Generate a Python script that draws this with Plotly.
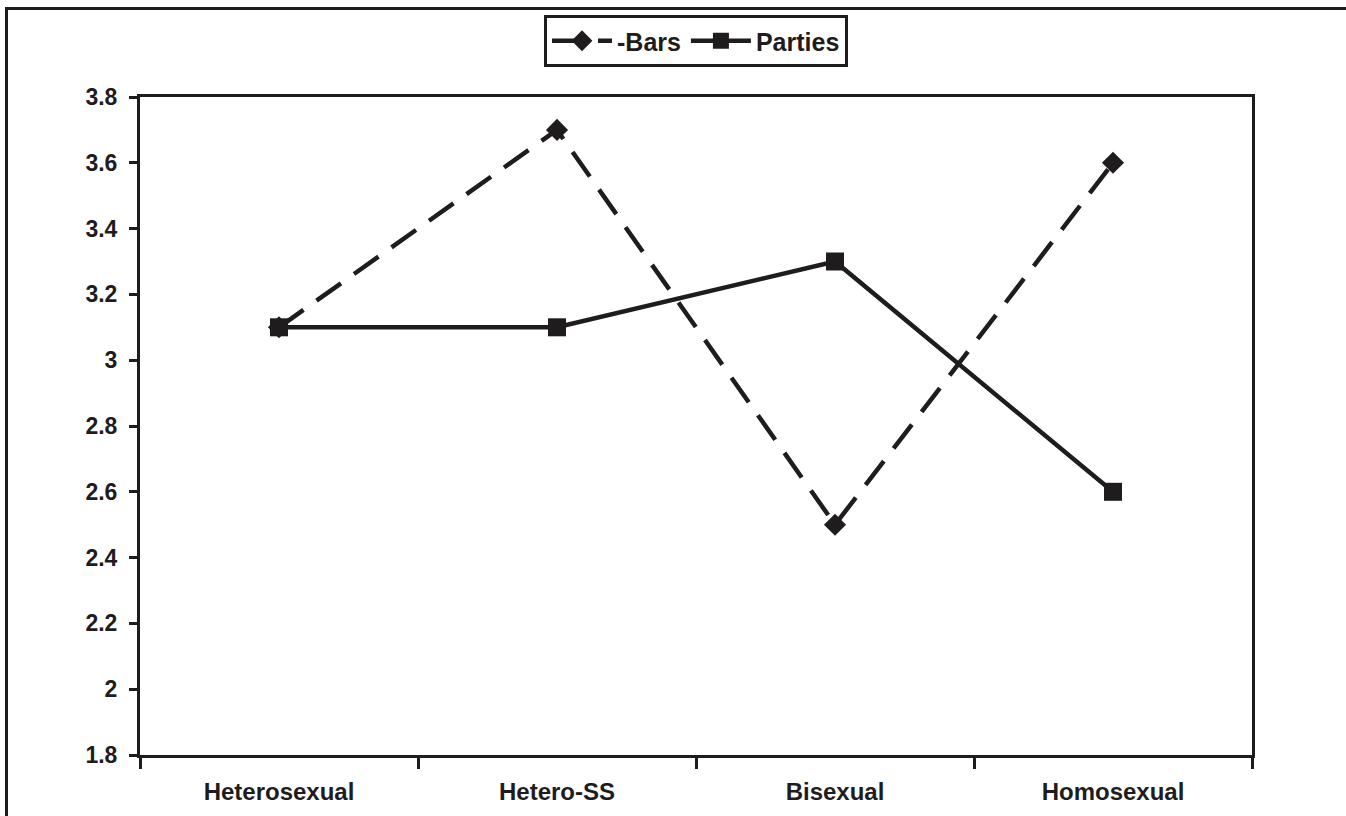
import plotly.graph_objects as go

categories = ["Heterosexual", "Hetero-SS", "Bisexual", "Homosexual"]
bars = [3.1, 3.7, 2.5, 3.6]
parties = [3.1, 3.1, 3.3, 2.6]
y_ticks = [1.8, 2.0, 2.2, 2.4, 2.6, 2.8, 3.0, 3.2, 3.4, 3.6, 3.8]
y_labels = ["1.8", "2", "2.2", "2.4", "2.6", "2.8", "3", "3.2", "3.4", "3.6", "3.8"]

INK = "#1f1c1d"
FONT = "Liberation Sans, Arial, sans-serif"

fig = go.Figure()
fig.add_trace(go.Scatter(
    x=categories, y=bars, name="-Bars", mode="lines+markers",
    line=dict(color=INK, width=4.5, dash="30px,16px"),
    marker=dict(symbol="diamond", size=17, color=INK),
))
fig.add_trace(go.Scatter(
    x=categories, y=parties, name="Parties", mode="lines+markers",
    line=dict(color=INK, width=4.5),
    marker=dict(symbol="square", size=18, color=INK),
))

W, H = 1346, 816
L, R, T, B = 140, 94, 97, 61
pw, ph = W - L - R, H - T - B

def px_x(p):
    return (p - L) / pw

def px_y(p):
    return (H - B - p) / ph

fig.add_shape(type="rect", xref="paper", yref="paper",
              x0=px_x(6.5), x1=px_x(1400), y0=px_y(880), y1=px_y(8.5),
              line=dict(color=INK, width=3), fillcolor="rgba(0,0,0,0)", layer="below")

fig.update_layout(
    width=W, height=H,
    margin=dict(l=L, r=R, t=T, b=B, pad=0),
    paper_bgcolor="white", plot_bgcolor="white",
    font=dict(family=FONT, size=23, color=INK),
    showlegend=True,
    legend=dict(
        orientation="h", x=0.5, xanchor="center", y=px_y(15), yanchor="top",
        bordercolor=INK, borderwidth=3, bgcolor="white",
        font=dict(family=FONT, size=25, color=INK, weight="bold"),
        itemwidth=60, tracegroupgap=0,
    ),
    xaxis=dict(
        type="category", range=[-0.5, 3.5], tickson="boundaries", ticks="outside",
        ticklen=11, tickwidth=3,
        tickcolor=INK, showline=True, linecolor=INK, linewidth=3, mirror=True,
        showgrid=False, zeroline=False,
        tickfont=dict(family=FONT, size=24, color=INK, weight="bold"),
        ticklabelstandoff=13,
    ),
    yaxis=dict(
        range=[1.8, 3.8], tickvals=y_ticks, ticktext=y_labels, ticks="outside",
        ticklen=8, tickwidth=3, tickcolor=INK, showline=True, linecolor=INK,
        linewidth=3, mirror=True, showgrid=False, zeroline=False,
        tickfont=dict(family=FONT, size=23, color=INK, weight="bold"),
        ticklabelstandoff=7,
    ),
)

fig.write_html("out.html", config={"displayModeBar": False},
               post_script="document.body.style.margin='0';")
